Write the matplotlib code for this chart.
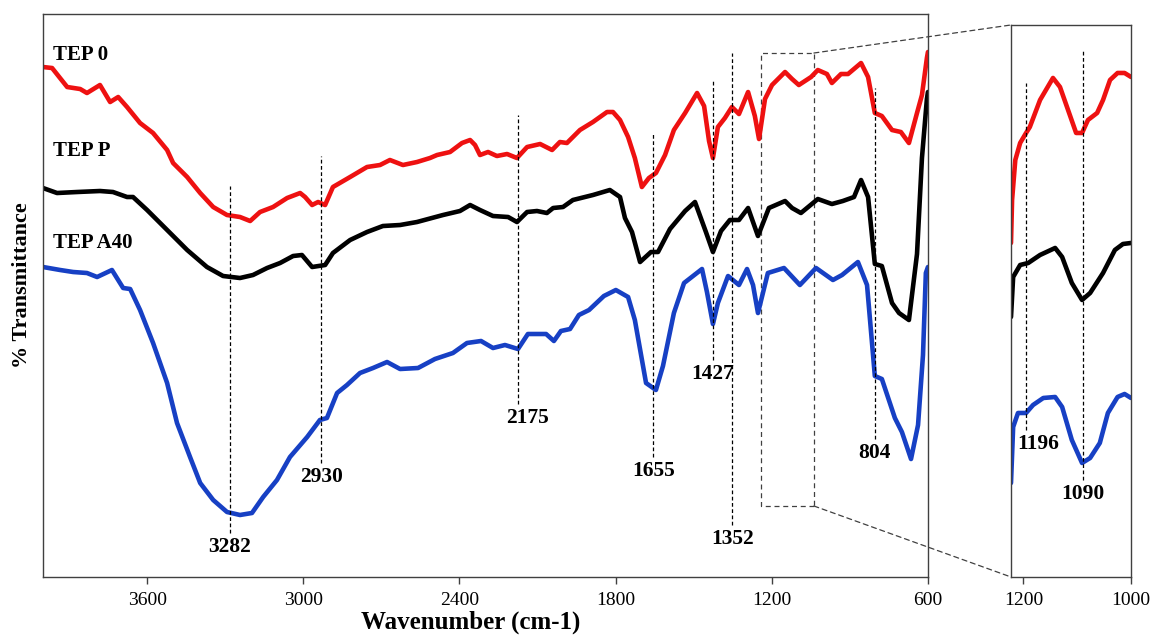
import matplotlib.pyplot as plt
from matplotlib.patches import Rectangle, ConnectionPatch

plt.rcParams['font.family'] = ['Liberation Serif', 'DejaVu Serif']

# FTIR spectra, wavenumber (cm-1) vs. offset transmittance (a.u.)
tep0_wn = [4000, 3965, 3907, 3857, 3831, 3781, 3742, 3711, 3677, 3627, 3577, 3523, 3500,
           3446, 3396, 3346, 3293, 3243, 3204, 3166, 3116, 3062, 3012, 2993, 2966, 2943,
           2916, 2886, 2820, 2755, 2705, 2667, 2617, 2563, 2513, 2486, 2436, 2390, 2359,
           2340, 2321, 2290, 2256, 2217, 2179, 2140, 2090, 2044, 2014, 1987, 1937, 1887,
           1833, 1810, 1783, 1752, 1726, 1699, 1672, 1645, 1610, 1576, 1533, 1487, 1460,
           1441, 1426, 1407, 1380, 1353, 1326, 1291, 1265, 1249, 1226, 1199, 1149, 1122,
           1096, 1049, 1023, 988, 969, 934, 907, 857, 830, 804, 777, 738, 704, 673, 642,
           623, 604, 600]
tep0_t = [510, 509, 490, 488, 484, 492, 475, 480, 470, 454, 444, 427, 414,
          400, 384, 370, 362, 360, 356, 365, 370, 379, 384, 380, 372, 375,
          372, 390, 400, 410, 412, 417, 412, 415, 419, 422, 425, 434, 437,
          432, 422, 425, 421, 423, 419, 430, 433, 427, 435, 434, 447, 455,
          465, 465, 457, 440, 419, 390, 399, 404, 422, 447, 464, 484, 471,
          436, 419, 450, 459, 470, 463, 485, 461, 438, 478, 492, 505, 498,
          492, 500, 507, 503, 494, 503, 503, 514, 500, 464, 461, 447, 445, 434,
          464, 482, 519, 525]

tepp_wn = [4000, 3946, 3869, 3781, 3731, 3677, 3654, 3600, 3523, 3446, 3370, 3308, 3243,
           3193, 3139, 3089, 3039, 3005, 2966, 2916, 2886, 2820, 2755, 2694, 2628, 2563,
           2463, 2398, 2359, 2321, 2271, 2213, 2179, 2140, 2102, 2064, 2040, 2002, 1964,
           1887, 1822, 1783, 1764, 1737, 1706, 1664, 1637, 1591, 1533, 1495, 1453, 1426,
           1395, 1361, 1326, 1291, 1253, 1211, 1149, 1122, 1088, 1023, 969, 927, 884, 857,
           830, 804, 777, 738, 711, 673, 642, 623, 604, 600]
tepp_t = [389, 384, 385, 386, 385, 380, 380, 367, 347, 327, 310, 301, 299,
          302, 309, 314, 321, 322, 310, 312, 324, 337, 345, 351, 352, 355,
          362, 366, 372, 367, 361, 360, 355, 365, 366, 364, 369, 370, 377,
          382, 387, 380, 359, 345, 315, 325, 325, 348, 366, 375, 345, 325,
          346, 357, 357, 369, 341, 369, 376, 369, 364, 378, 373, 376, 380, 397,
          380, 313, 311, 274, 264, 257, 323, 419, 478, 485]

tepa40_wn = [4000, 3934, 3884, 3831, 3792, 3735, 3692, 3665, 3627, 3577, 3523, 3485, 3435,
             3396, 3346, 3293, 3243, 3197, 3154, 3101, 3051, 2985, 2936, 2909, 2870, 2832,
             2782, 2732, 2678, 2628, 2559, 2494, 2425, 2371, 2317, 2271, 2225, 2175, 2137,
             2067, 2037, 2010, 1975, 1941, 1902, 1845, 1799, 1752, 1726, 1683, 1645, 1618,
             1576, 1537, 1468, 1449, 1426, 1407, 1368, 1326, 1295, 1272, 1253, 1215, 1153,
             1092, 1030, 965, 930, 869, 834, 804, 777, 727, 700, 665, 638, 619, 608, 600]
tepa40_t = [310, 307, 305, 304, 300, 307, 289, 288, 267, 234, 194, 154, 120,
            94, 77, 65, 62, 64, 80, 97, 120, 140, 157, 159, 184, 192,
            204, 209, 215, 208, 209, 218, 224, 234, 236, 229, 232, 228, 243,
            243, 236, 246, 248, 262, 267, 281, 287, 280, 257, 194, 187, 211,
            264, 294, 308, 285, 253, 274, 301, 292, 308, 292, 264, 304, 309,
            292, 309, 297, 302, 315, 292, 201, 198, 159, 145, 118, 152, 222, 304, 310]

# expanded 1225-1000 cm-1 region
tep0_zoom_wn = [1223, 1221, 1215, 1206, 1195, 1188, 1169, 1145, 1132, 1117, 1102, 1091,
                1080, 1063, 1052, 1039, 1025, 1012, 1000]
tep0_zoom_t = [334, 377, 417, 434, 444, 450, 477, 499, 490, 467, 444, 444,
               457, 464, 477, 497, 504, 504, 500]
tepp_zoom_wn = [1223, 1219, 1206, 1191, 1169, 1141, 1128, 1110, 1091, 1076, 1052, 1030,
                1015, 1000]
tepp_zoom_t = [260, 300, 312, 314, 322, 329, 320, 294, 277, 284, 304, 327, 333, 334]
tepa40_zoom_wn = [1223, 1219, 1210, 1195, 1182, 1163, 1141, 1128, 1110, 1091, 1076, 1058,
                  1043, 1025, 1012, 1000]
tepa40_zoom_t = [94, 150, 164, 164, 172, 179, 180, 170, 137, 114, 119, 134,
                 164, 180, 183, 179]

# assigned bands
peaks = [3282, 2930, 2175, 1655, 1427, 1352, 804]
peak_top = [391, 421, 462, 445, 498, 524, 489]
peak_bottom = [44, 114, 173, 120, 217, 52, 138]
zoom_peaks = [1196, 1090]
zoom_peak_top = [494, 527]
zoom_peak_bottom = [147, 97]

series = [
    ('TEP 0', tep0_wn, tep0_t, tep0_zoom_wn, tep0_zoom_t, '#EE1111', 522),
    ('TEP P', tepp_wn, tepp_t, tepp_zoom_wn, tepp_zoom_t, '#000000', 426),
    ('TEP A40', tepa40_wn, tepa40_t, tepa40_zoom_wn, tepa40_zoom_t, '#1740C4', 334),
]

fig = plt.figure(figsize=(11.52, 6.37), dpi=100)
ax = fig.add_axes([0.0373, 0.0942, 0.7682, 0.8838])
axins = fig.add_axes([0.8776, 0.0942, 0.1042, 0.8666])

frame = '#404040'
dash = (0, (3, 2))
lbl = dict(fontsize=15.5, fontweight='bold')

for name, wn, t, zwn, zt, col, label_y in series:
    ax.plot(wn, t, color=col, lw=3.3, solid_joinstyle='round', solid_capstyle='round')
    axins.plot(zwn, zt, color=col, lw=3.3, solid_joinstyle='round', solid_capstyle='round')
    ax.text(3962, label_y, name, ha='left', va='center', fontsize=15, fontweight='bold')

for wn, top, bot in zip(peaks, peak_top, peak_bottom):
    ax.plot([wn, wn], [bot, top], color='black', lw=0.9, linestyle=dash)
    dx = 7 if wn == 2175 else 0
    ax.annotate(str(wn), (wn, bot), xytext=(dx, -3), textcoords='offset points',
                ha='center', va='top', **lbl)

for wn, top, bot in zip(zoom_peaks, zoom_peak_top, zoom_peak_bottom):
    axins.plot([wn, wn], [bot, top], color='black', lw=0.9, linestyle=dash)
axins.annotate('1196', (1196, zoom_peak_bottom[0]), xytext=(-6, -3), textcoords='offset points',
               ha='left', va='top', **lbl)
axins.annotate('1090', (1090, zoom_peak_bottom[1]), xytext=(0, -3), textcoords='offset points',
               ha='center', va='top', **lbl)

ax.set_xlim(4000, 600)
ax.set_ylim(0, 563)
axins.set_xlim(1223, 1000)
axins.set_ylim(0, 552)

ax.set_xticks([3600, 3000, 2400, 1800, 1200, 600])
axins.set_xticks([1200, 1000])
for a in (ax, axins):
    a.set_yticks([])
    a.tick_params(axis='x', direction='out', length=5, width=1, color=frame,
                  labelsize=14, pad=6)
    for s in a.spines.values():
        s.set_color(frame)
        s.set_linewidth(1)

fig.text(0.409, 0.005, 'Wavenumber (cm-1)', ha='center', va='bottom',
         fontsize=18, fontweight='bold')
fig.text(0.019, 0.553, '% Transmittance', rotation=90, ha='center', va='center',
         fontsize=16, fontweight='bold')

# region that is expanded on the right
zx0, zx1, zy0, zy1 = 1241, 1038, 71, 524
ax.add_patch(Rectangle((zx1, zy0), zx0 - zx1, zy1 - zy0, fill=False,
                       edgecolor=frame, lw=0.9, linestyle=(0, (4, 3))))
for ya, yb in [(zy1, 1), (zy0, 0)]:
    con = ConnectionPatch(xyA=(zx1, ya), coordsA=ax.transData,
                          xyB=(0, yb), coordsB=axins.transAxes,
                          color=frame, lw=0.9, linestyle=(0, (4, 3)))
    fig.add_artist(con)

fig.savefig('out.png', dpi=100, facecolor='white')
